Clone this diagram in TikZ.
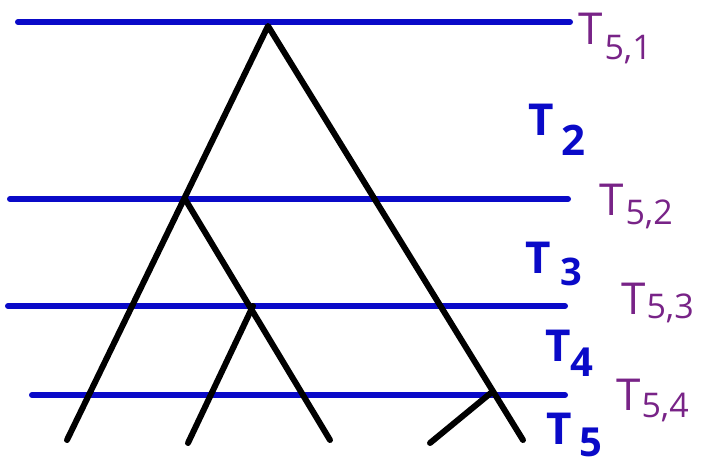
\documentclass[tikz,border=0pt]{standalone}
\usepackage{fontspec}
\setmainfont{Open Sans}
\definecolor{lineblue}{RGB}{10,10,200}
\definecolor{labpurple}{RGB}{120,35,135}
\begin{document}
\begin{tikzpicture}[x=1pt,y=-1pt,
  tline/.style={line width=6pt,lineblue,line cap=round},
  branch/.style={line width=6pt,black,line cap=round,line join=round},
  plab/.style={labpurple,inner sep=0pt,anchor=base west,font=\fontsize{44}{44}\selectfont},
  blab/.style={lineblue,inner sep=0pt,anchor=base west,font=\bfseries\fontsize{44}{44}\selectfont}]
\useasboundingbox (0,0) rectangle (705,469);
% horizontal time lines
\coordinate (a1) at (18,22);  \coordinate (b1) at (570,22);
\coordinate (a2) at (10,199); \coordinate (b2) at (568,199);
\coordinate (a3) at (8,306);  \coordinate (b3) at (565,306);
\coordinate (a4) at (32,395); \coordinate (b4) at (565,395);
\draw[tline] (a1) -- (b1);
\draw[tline] (a2) -- (b2);
\draw[tline] (a3) -- (b3);
\draw[tline] (a4) -- (b4);
% tree
\coordinate (root) at (268,26);
\coordinate (l1) at (67,440);
\coordinate (r1) at (523,440);
\coordinate (j2) at (185,199);
\coordinate (l2) at (330,440);
\coordinate (j3) at (253,306);
\coordinate (l3) at (188,443);
\coordinate (j4) at (492,392);
\coordinate (l4) at (430,443);
\draw[branch] (l1) -- (root) -- (r1);
\draw[branch] (j2) -- (l2);
\draw[branch] (j3) -- (l3);
\draw[branch] (j4) -- (l4);
% purple labels
\node[plab] (p1) at (578,44) {T\hspace{2pt}\raisebox{-15pt}{\fontsize{34}{34}\selectfont 5,1}};
\node[plab] (p2) at (599,215) {T\hspace{2pt}\raisebox{-9pt}{\fontsize{34}{34}\selectfont 5,2}};
\node[plab] (p3) at (621,314) {T\hspace{1pt}\raisebox{-4pt}{\fontsize{34}{34}\selectfont 5,3}};
\node[plab] (p4) at (616,410) {T\hspace{1pt}\raisebox{-7pt}{\fontsize{34}{34}\selectfont 5,4}};
% blue labels
\node[blab] (t2) at (528,135) {T\hspace{8pt}\raisebox{-20pt}{\fontsize{42}{42}\selectfont 2}};
\node[blab] (t3) at (525,273) {T\hspace{10pt}\raisebox{-12pt}{\fontsize{38}{38}\selectfont 3}};
\node[blab] (t4) at (545,361) {T\hspace{0pt}\raisebox{-15pt}{\fontsize{40}{40}\selectfont 4}};
\node[blab] (t5) at (546,444) {T\hspace{8pt}\raisebox{-12pt}{\fontsize{40}{40}\selectfont 5}};
\end{tikzpicture}
\end{document}
